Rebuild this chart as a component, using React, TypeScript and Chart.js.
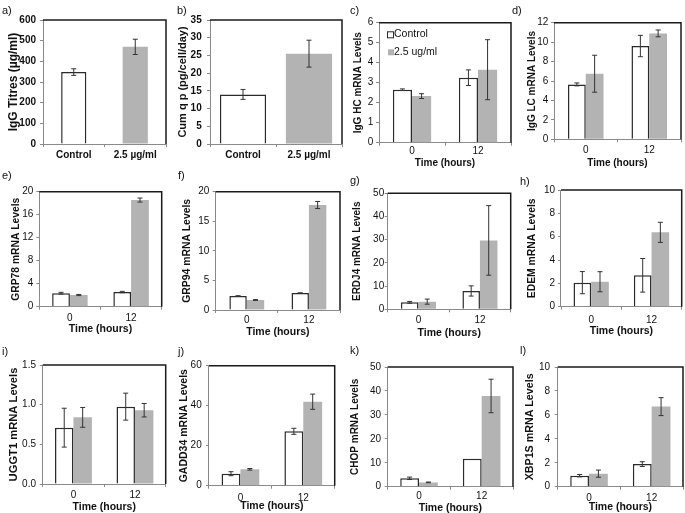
import React, { useEffect, useRef } from "react";
import { Chart, registerables } from "chart.js";
Chart.register(...registerables);

const FONT = "'Liberation Sans', Arial, Helvetica, sans-serif";
Chart.defaults.font.family = FONT;
Chart.defaults.color = "#111";

// ---------- data ----------
const treatmentLabels = ["Control", "2.5 µg/ml"];
const timeLabels = ["0", "12"];
const seriesNames = ["Control", "2.5 ug/ml"];

const igGTitres = [348, 470];
const igGTitresErr = [16, 37];
const cumQp = [14.0, 25.5];
const cumQpErr = [1.4, 3.8];

const hcControl = [2.65, 3.25];
const hcControlErr = [0.04, 0.39];
const hcTreated = [2.33, 3.65];
const hcTreatedErr = [0.12, 1.5];

const lcControl = [5.65, 9.6];
const lcControlErr = [0.15, 1.1];
const lcTreated = [6.75, 10.9];
const lcTreatedErr = [1.9, 0.35];

const grp78Control = [2.35, 2.55];
const grp78ControlErr = [0.15, 0.12];
const grp78Treated = [2.03, 18.55];
const grp78TreatedErr = [0.1, 0.35];

const grp94Control = [2.37, 2.87];
const grp94ControlErr = [0.04, 0.04];
const grp94Treated = [1.69, 17.75];
const grp94TreatedErr = [0.07, 0.6];

const erdj4Control = [3.0, 7.9];
const erdj4ControlErr = [0.4, 2.2];
const erdj4Treated = [3.3, 29.7];
const erdj4TreatedErr = [1.1, 15];

const edemControl = [2.06, 2.69];
const edemControlErr = [0.95, 1.44];
const edemTreated = [2.14, 6.37];
const edemTreatedErr = [0.86, 0.86];

const uggt1Control = [0.71, 0.975];
const uggt1ControlErr = [0.245, 0.17];
const uggt1Treated = [0.84, 0.93];
const uggt1TreatedErr = [0.125, 0.085];

const gadd34Control = [6.0, 27.2];
const gadd34ControlErr = [1.0, 1.5];
const gadd34Treated = [8.2, 42];
const gadd34TreatedErr = [0.4, 3.8];

const chopControl = [3.5, 11.7];
const chopControlErr = [0.5, 0];
const chopTreated = [1.8, 37.9];
const chopTreatedErr = [0.15, 7];

const xbp1sControl = [0.92, 1.89];
const xbp1sControlErr = [0.1, 0.2];
const xbp1sTreated = [1.09, 6.69];
const xbp1sTreatedErr = [0.3, 0.75];

// ---------- panel definitions ----------
type Panel = {
  letter: string;
  yTitle: string;
  labels: string[];
  values: number[][];
  errors: number[][];
  yMax: number;
  yStep: number;
  yDecimals: number;
  single?: boolean;
  legend?: boolean;
  xTitle?: string;
};

const panels: Panel[] = [
  { letter: "a)", yTitle: "IgG Titres (µg/ml)", labels: treatmentLabels, values: [igGTitres], errors: [igGTitresErr], yMax: 600, yStep: 100, yDecimals: 0, single: true },
  { letter: "b)", yTitle: "Cum q p (pg/cell/day)", labels: treatmentLabels, values: [cumQp], errors: [cumQpErr], yMax: 35, yStep: 5, yDecimals: 0, single: true },
  { letter: "c)", yTitle: "IgG HC mRNA Levels", labels: timeLabels, values: [hcControl, hcTreated], errors: [hcControlErr, hcTreatedErr], yMax: 6, yStep: 1, yDecimals: 0, legend: true, xTitle: "Time (hours)" },
  { letter: "d)", yTitle: "IgG LC mRNA Levels", labels: timeLabels, values: [lcControl, lcTreated], errors: [lcControlErr, lcTreatedErr], yMax: 12, yStep: 2, yDecimals: 0, xTitle: "Time (hours)" },
  { letter: "e)", yTitle: "GRP78 mRNA Levels", labels: timeLabels, values: [grp78Control, grp78Treated], errors: [grp78ControlErr, grp78TreatedErr], yMax: 20, yStep: 4, yDecimals: 0, xTitle: "Time (hours)" },
  { letter: "f)", yTitle: "GRP94 mRNA Levels", labels: timeLabels, values: [grp94Control, grp94Treated], errors: [grp94ControlErr, grp94TreatedErr], yMax: 20, yStep: 5, yDecimals: 0, xTitle: "Time (hours)" },
  { letter: "g)", yTitle: "ERDJ4 mRNA Levels", labels: timeLabels, values: [erdj4Control, erdj4Treated], errors: [erdj4ControlErr, erdj4TreatedErr], yMax: 50, yStep: 10, yDecimals: 0, xTitle: "Time (hours)" },
  { letter: "h)", yTitle: "EDEM mRNA Levels", labels: timeLabels, values: [edemControl, edemTreated], errors: [edemControlErr, edemTreatedErr], yMax: 10, yStep: 2, yDecimals: 0, xTitle: "Time (hours)" },
  { letter: "i)", yTitle: "UGGT1 mRNA Levels", labels: timeLabels, values: [uggt1Control, uggt1Treated], errors: [uggt1ControlErr, uggt1TreatedErr], yMax: 1.5, yStep: 0.5, yDecimals: 1, xTitle: "Time (hours)" },
  { letter: "j)", yTitle: "GADD34 mRNA Levels", labels: timeLabels, values: [gadd34Control, gadd34Treated], errors: [gadd34ControlErr, gadd34TreatedErr], yMax: 60, yStep: 20, yDecimals: 0, xTitle: "Time (hours)" },
  { letter: "k)", yTitle: "CHOP mRNA Levels", labels: timeLabels, values: [chopControl, chopTreated], errors: [chopControlErr, chopTreatedErr], yMax: 50, yStep: 10, yDecimals: 0, xTitle: "Time (hours)" },
  { letter: "l)", yTitle: "XBP1S mRNA Levels", labels: timeLabels, values: [xbp1sControl, xbp1sTreated], errors: [xbp1sControlErr, xbp1sTreatedErr], yMax: 10, yStep: 2, yDecimals: 0, xTitle: "Time (hours)" },
];

// ---------- layout (page pixels) ----------
type Layout = {
  L: number; T: number; R: number; B: number;
  letterX: number; letterY: number;
  yTitleX: number; yTitleSize: number; yGap: number;
  xLabelY: number; xTitleY: number; xTitleSize: number;
  tickSize: number; boldTicks: boolean; catPct: number;
};

const layouts: Layout[] = [
  { L: 43, T: 20, R: 166, B: 144, letterX: 2, letterY: 11, yTitleX: 13.7, yTitleSize: 12, yGap: 7, xLabelY: 155, xTitleY: 0, xTitleSize: 10, tickSize: 10, boldTicks: true, catPct: 0.41 },
  { L: 210, T: 20, R: 342, B: 144, letterX: 177, letterY: 11, yTitleX: 182.7, yTitleSize: 11, yGap: 8.3, xLabelY: 155, xTitleY: 0, xTitleSize: 10, tickSize: 10, boldTicks: true, catPct: 0.7 },
  { L: 379, T: 22.7, R: 511, B: 142.7, letterX: 350, letterY: 11, yTitleX: 358.3, yTitleSize: 10, yGap: 5.7, xLabelY: 151.7, xTitleY: 163.3, xTitleSize: 10, tickSize: 10, boldTicks: false, catPct: 0.58 },
  { L: 554, T: 22.7, R: 681, B: 139.3, letterX: 512, letterY: 11, yTitleX: 532.3, yTitleSize: 10, yGap: 5.7, xLabelY: 150, xTitleY: 163, xTitleSize: 10, tickSize: 10, boldTicks: false, catPct: 0.56 },
  { L: 39.3, T: 191.7, R: 161.7, B: 306.7, letterX: 2, letterY: 176, yTitleX: 15.7, yTitleSize: 10.3, yGap: 6, xLabelY: 318.3, xTitleY: 329, xTitleSize: 10.5, tickSize: 10, boldTicks: false, catPct: 0.58 },
  { L: 215.7, T: 191.7, R: 340, B: 310, letterX: 178, letterY: 176, yTitleX: 187.3, yTitleSize: 10.4, yGap: 6.4, xLabelY: 320.7, xTitleY: 331.7, xTitleSize: 10.5, tickSize: 10, boldTicks: false, catPct: 0.56 },
  { L: 387.7, T: 193.3, R: 510.7, B: 309.3, letterX: 350, letterY: 181, yTitleX: 357.3, yTitleSize: 10, yGap: 3.5, xLabelY: 320.7, xTitleY: 333, xTitleSize: 10.5, tickSize: 10, boldTicks: false, catPct: 0.57 },
  { L: 561, T: 190, R: 681.7, B: 306.7, letterX: 520, letterY: 182, yTitleX: 532.3, yTitleSize: 10.4, yGap: 6, xLabelY: 320, xTitleY: 330.7, xTitleSize: 10.5, tickSize: 10, boldTicks: false, catPct: 0.585 },
  { L: 42.7, T: 365, R: 165.7, B: 484, letterX: 2, letterY: 352, yTitleX: 13.7, yTitleSize: 11.2, yGap: 6.7, xLabelY: 495, xTitleY: 506.7, xTitleSize: 10.5, tickSize: 10, boldTicks: false, catPct: 0.6 },
  { L: 209, T: 365.7, R: 334.7, B: 485.7, letterX: 178, letterY: 352, yTitleX: 184, yTitleSize: 10.5, yGap: 7.3, xLabelY: 498.3, xTitleY: 506, xTitleSize: 10.5, tickSize: 10, boldTicks: false, catPct: 0.6 },
  { L: 387.7, T: 367, R: 513, B: 486.7, letterX: 350, letterY: 351, yTitleX: 355, yTitleSize: 10, yGap: 6.7, xLabelY: 496.7, xTitleY: 507.7, xTitleSize: 10.5, tickSize: 10, boldTicks: false, catPct: 0.6 },
  { L: 557.7, T: 367, R: 683, B: 486.7, letterX: 520, letterY: 351, yTitleX: 530, yTitleSize: 10.7, yGap: 7.7, xLabelY: 498, xTitleY: 506.7, xTitleSize: 10.5, tickSize: 10, boldTicks: false, catPct: 0.6 },
];

const CONTROL_FILL = "#ffffff";
const CONTROL_EDGE = "#2b2b2b";
const TREATED_FILL = "#b3b3b3";
const AXIS_GREY = "#8a8a8a";
const FRAME = "#1a1a1a";
const ERR = "#333333";

const Y_TICK_LEN = 3;
const X_TICK_LEN = 3;

function geometry(g: Layout, hasXTitle: boolean) {
  const axisW = g.L - g.yTitleX + 0.6 * g.yTitleSize;
  const left = Math.floor(Math.min(g.letterX, g.yTitleX - 8)) - 2;
  const top = Math.floor(Math.min(g.letterY - 9, g.T - 6));
  const axisH = (hasXTitle ? g.xTitleY + 0.6 * g.xTitleSize : g.xLabelY + 0.6 * g.tickSize + 2) - g.B;
  const w = Math.ceil(g.R + 4 - left);
  const h = Math.ceil(g.B + axisH + 2 - top);
  const padLeft = g.L - axisW - left;
  const padTop = g.T - top;
  const padRight = w - (g.R - left);
  const padBottom = h - (g.B + axisH - top);
  return { axisW, axisH, left, top, w, h, padLeft, padTop, padRight, padBottom };
}

const errorBarPlugin = {
  id: "errorBars",
  afterDatasetsDraw(chart: any) {
    const ctx = chart.ctx;
    const ys = chart.scales.y;
    chart.data.datasets.forEach((ds: any, di: number) => {
      const meta = chart.getDatasetMeta(di);
      const errs: number[] = ds.errors || [];
      meta.data.forEach((bar: any, i: number) => {
        const v = ds.data[i];
        const e = errs[i];
        if (!e) return;
        const x = bar.x;
        const t = ys.getPixelForValue(v + e);
        const b = ys.getPixelForValue(v - e);
        ctx.save();
        ctx.strokeStyle = ERR;
        ctx.lineWidth = 1;
        ctx.beginPath();
        ctx.moveTo(x, t);
        ctx.lineTo(x, b);
        ctx.moveTo(x - 2.5, t);
        ctx.lineTo(x + 2.5, t);
        ctx.moveTo(x - 2.5, b);
        ctx.lineTo(x + 2.5, b);
        ctx.stroke();
        ctx.restore();
      });
    });
  },
};

const framePlugin = {
  id: "frame",
  afterDraw(chart: any) {
    const { ctx, chartArea: a } = chart;
    ctx.save();
    ctx.strokeStyle = FRAME;
    ctx.lineWidth = 1.5;
    ctx.beginPath();
    ctx.moveTo(a.left, a.top);
    ctx.lineTo(a.right, a.top);
    ctx.lineTo(a.right, a.bottom);
    ctx.stroke();
    ctx.restore();
  },
};

function makeLetterPlugin(text: string, x: number, y: number) {
  return {
    id: "letter",
    afterDraw(chart: any) {
      const ctx = chart.ctx;
      ctx.save();
      ctx.fillStyle = "#111";
      ctx.font = `11px ${FONT}`;
      ctx.textAlign = "left";
      ctx.textBaseline = "middle";
      ctx.fillText(text, x, y);
      ctx.restore();
    },
  };
}

function makeLegendPlugin(offX: number, offY: number) {
  return {
    id: "innerLegend",
    afterDraw(chart: any) {
      const ctx = chart.ctx;
      const items = chart.data.datasets;
      const rows = [34.3, 52.3];
      ctx.save();
      ctx.font = `10.5px ${FONT}`;
      ctx.textBaseline = "middle";
      ctx.textAlign = "left";
      items.forEach((ds: any, i: number) => {
        const cy = rows[i] - offY;
        const sx = 387 - offX;
        if (i === 0) {
          ctx.fillStyle = CONTROL_FILL;
          ctx.fillRect(sx, cy - 3, 6, 6);
          ctx.strokeStyle = CONTROL_EDGE;
          ctx.lineWidth = 1;
          ctx.strokeRect(sx + 0.5, cy - 3 + 0.5, 6, 6);
        } else {
          ctx.fillStyle = TREATED_FILL;
          ctx.fillRect(sx + 1, cy - 3, 6, 6);
        }
        ctx.fillStyle = "#111";
        ctx.fillText(ds.label, 394 - offX, cy);
      });
      ctx.restore();
    },
  };
}

function buildConfig(p: Panel, g: Layout) {
  const geo = geometry(g, !!p.xTitle);
  const tickFont = { size: g.tickSize, weight: g.boldTicks ? "bold" : "normal", family: FONT } as any;
  const datasets = p.single
    ? [
        {
          label: seriesNames[0],
          data: p.values[0],
          errors: p.errors[0],
          backgroundColor: [CONTROL_FILL, TREATED_FILL],
          borderColor: [CONTROL_EDGE, TREATED_FILL],
          borderWidth: [1.5, 0],
          categoryPercentage: g.catPct,
          barPercentage: 1,
        },
      ]
    : [
        {
          label: seriesNames[0],
          data: p.values[0],
          errors: p.errors[0],
          backgroundColor: CONTROL_FILL,
          borderColor: CONTROL_EDGE,
          borderWidth: 1.5,
          categoryPercentage: g.catPct,
          barPercentage: 1,
        },
        {
          label: seriesNames[1],
          data: p.values[1],
          errors: p.errors[1],
          backgroundColor: TREATED_FILL,
          borderWidth: 0,
          categoryPercentage: g.catPct,
          barPercentage: 1,
        },
      ];
  const plugins: any[] = [errorBarPlugin, framePlugin, makeLetterPlugin(p.letter, g.letterX - geo.left, g.letterY - geo.top)];
  if (p.legend) plugins.push(makeLegendPlugin(geo.left, geo.top));
  return {
    type: "bar",
    data: { labels: p.labels, datasets },
    plugins,
    options: {
      responsive: false,
      animation: false,
      events: [],
      layout: { padding: { left: geo.padLeft, top: geo.padTop, right: geo.padRight, bottom: geo.padBottom } },
      plugins: { legend: { display: false }, tooltip: { enabled: false }, title: { display: false } },
      scales: {
        x: {
          type: "category",
          grid: { display: true, drawOnChartArea: false, drawTicks: true, tickLength: X_TICK_LEN, color: AXIS_GREY, offset: true },
          border: { display: true, color: AXIS_GREY, width: 1 },
          ticks: {
            font: tickFont,
            color: "#111",
            padding: g.xLabelY - g.B - X_TICK_LEN - 0.6 * g.tickSize,
            maxRotation: 0,
            autoSkip: false,
          },
          title: p.xTitle
            ? { display: true, text: p.xTitle, font: { size: g.xTitleSize, weight: "bold", family: FONT }, color: "#111", padding: 0 }
            : { display: false },
          afterFit: (s: any) => {
            s.height = geo.axisH;
          },
        },
        y: {
          min: 0,
          max: p.yMax,
          grid: { display: true, drawOnChartArea: false, drawTicks: true, tickLength: Y_TICK_LEN, color: AXIS_GREY },
          border: { display: true, color: AXIS_GREY, width: 1 },
          ticks: {
            stepSize: p.yStep,
            font: tickFont,
            color: "#111",
            padding: g.yGap - Y_TICK_LEN,
            callback: (v: any) => Number(v).toFixed(p.yDecimals),
          },
          title: { display: true, text: p.yTitle, font: { size: g.yTitleSize, weight: "bold", family: FONT }, color: "#111", padding: 0 },
          afterFit: (s: any) => {
            s.width = geo.axisW;
          },
        },
      },
    },
  } as any;
}

function PanelChart({ p, g }: { p: Panel; g: Layout }) {
  const ref = useRef<HTMLCanvasElement | null>(null);
  const geo = geometry(g, !!p.xTitle);
  useEffect(() => {
    if (!ref.current) return;
    const chart = new Chart(ref.current, buildConfig(p, g));
    return () => chart.destroy();
  }, []);
  return (
    <canvas
      ref={ref}
      width={geo.w}
      height={geo.h}
      style={{ position: "absolute", left: geo.left, top: geo.top, width: geo.w, height: geo.h }}
    />
  );
}

export default function App() {
  return (
    <div style={{ position: "absolute", left: 0, top: 0, width: 685, height: 513, background: "#fff", overflow: "hidden" }}>
      {panels.map((p, i) => (
        <PanelChart key={p.letter} p={p} g={layouts[i]} />
      ))}
    </div>
  );
}
